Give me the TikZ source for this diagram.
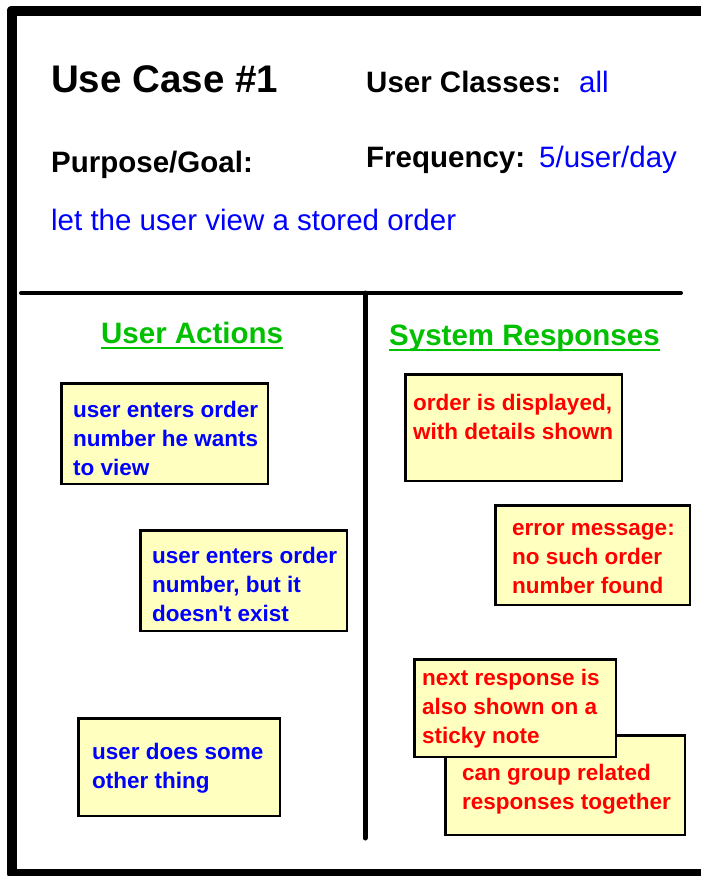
\documentclass[tikz,border=0pt]{standalone}
\usepackage{fontspec}
\setmainfont{Liberation Sans}

\definecolor{notefill}{RGB}{255,255,192}
\definecolor{textblue}{RGB}{0,0,255}
\definecolor{textred}{RGB}{255,0,0}
\definecolor{headgreen}{RGB}{0,192,0}

\newcommand{\notefont}{\fontsize{22.5}{29}\selectfont\bfseries}
\newcommand{\fieldfont}{\fontsize{29.5}{34}\selectfont}

\begin{document}
\begin{tikzpicture}[x=1pt, y=-1pt,
    note/.style={draw=black, line width=2.5pt, fill=notefill, inner sep=0pt},
    notetext/.style={font=\notefont, align=left, inner sep=0pt, anchor=north west},
    acttext/.style={notetext, text=textblue},
    resptext/.style={notetext, text=textred},
    field/.style={font=\fieldfont\bfseries, inner sep=0pt, anchor=base west},
    value/.style={font=\fieldfont, text=textblue, inner sep=0pt, anchor=base west},
    heading/.style={font=\fieldfont\bfseries, text=headgreen, inner sep=0pt, anchor=base west}]

        \useasboundingbox (0, 0) rectangle (701, 876);

        % frame, open on the right
        \draw[line width=10pt, line join=round] (706, 874) -- (11.5, 874) -- (11.5, 10.5) -- (706, 10.5);

        % header
        \node[field, font=\fontsize{38.5}{44}\selectfont\bfseries] (title) at (51, 92) {Use Case \#1};
        \node[field] (classes) at (366, 92) {User Classes:};
        \node[value] (classesval) at (579, 92) {all};
        \node[field] (purpose) at (51, 172) {Purpose/Goal:};
        \node[field] (freq) at (366, 167) {Frequency:};
        \node[value] (freqval) at (539, 167) {5/user/day};
        \node[value] (purposeval) at (51, 230) {let the user view a stored order};

        % dividers
        \draw[line width=4pt, line cap=round] (21, 293) -- (681, 293);
        \draw[line width=5pt, line cap=round] (365, 293) -- (365, 838);

        % column headings
        \node[heading] (acts) at (101, 343) {User Actions};
        \node[heading] (resps) at (389, 345) {System Responses};
        \draw[headgreen, line width=2pt] ([yshift=-5pt]acts.base west) -- ([yshift=-5pt]acts.base east);
        \draw[headgreen, line width=2pt] ([yshift=-5pt]resps.base west) -- ([yshift=-5pt]resps.base east);

        % user actions
        \node[note, minimum width=206.5pt, minimum height=100.5pt] (act1) at (164.5, 433.5) {};
        \node[acttext] (act1t) at (73, 396.7) {\strut user enters order\\number he wants\\to view};

        \node[note, minimum width=206.5pt, minimum height=100.5pt] (act2) at (243.5, 580.5) {};
        \node[acttext] (act2t) at (152, 542.7) {\strut user enters order\\number, but it\\doesn\textquotesingle t exist};

        \node[note, minimum width=201.5pt, minimum height=97.5pt] (act3) at (179, 767) {};
        \node[acttext] (act3t) at (92, 738.7) {\strut user does some\\other thing};

        % system responses
        \node[note, minimum width=216.5pt, minimum height=106.5pt] (resp1) at (513.5, 427.5) {};
        \node[resptext] (resp1t) at (413, 389.7) {\strut order is displayed,\\with details shown};

        \node[note, minimum width=194.5pt, minimum height=99.5pt] (resp2) at (592.5, 555) {};
        \node[resptext] (resp2t) at (512, 514.7) {\strut error message:\\no such order\\number found};

        % stacked notes: the grouped one sits behind
        \node[note, minimum width=239.5pt, minimum height=99.5pt] (resp4) at (565, 785) {};
        \node[resptext] (resp4t) at (462, 759.7) {\strut can group related\\responses together};

        \node[note, minimum width=201.5pt, minimum height=97.5pt] (resp3) at (515, 708) {};
        \node[resptext] (resp3t) at (422, 664.7) {\strut next response is\\also shown on a\\sticky note};

      \end{tikzpicture}
\end{document}
